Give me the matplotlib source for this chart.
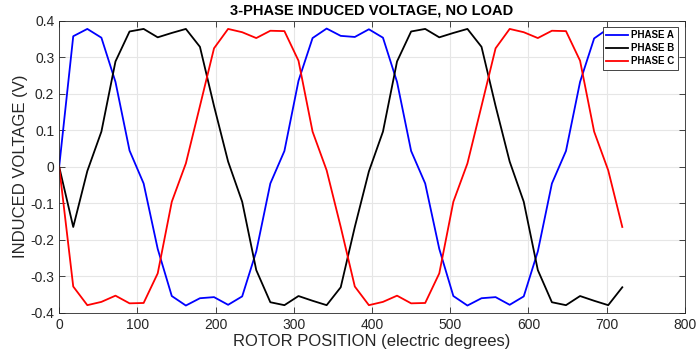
import numpy as np
import matplotlib
matplotlib.use("Agg")
import matplotlib.pyplot as plt

plt.rcParams["font.family"] = ["Liberation Sans", "DejaVu Sans"]
plt.rcParams["axes.unicode_minus"] = False

# rotor position, electric degrees (18 deg steps)
posicion = [0, 18, 36, 54, 72, 90, 108, 126, 144, 162, 180, 198, 216, 234, 252, 270, 288,
            306, 324, 342, 360, 378, 396, 414, 432, 450, 468, 486, 504, 522, 540, 558, 576,
            594, 612, 630, 648, 666, 684, 702, 720]

fase_a = [0, 0.357, 0.377, 0.353, 0.232, 0.044, -0.046, -0.225, -0.354, -0.380, -0.360,
          -0.357, -0.378, -0.355, -0.232, -0.046, 0.043, 0.235, 0.352, 0.378, 0.358,
          0.355, 0.376, 0.353, 0.232, 0.043, -0.046, -0.225, -0.354, -0.380, -0.360,
          -0.357, -0.378, -0.355, -0.232, -0.046, 0.043, 0.232, 0.351, 0.378, 0.360]

fase_b = [0, -0.165, -0.012, 0.096, 0.288, 0.370, 0.377, 0.354, 0.366, 0.377, 0.328,
          0.166, 0.014, -0.096, -0.283, -0.371, -0.379, -0.354, -0.367, -0.379, -0.330,
          -0.165, -0.013, 0.096, 0.288, 0.370, 0.377, 0.354, 0.366, 0.377, 0.328,
          0.166, 0.014, -0.096, -0.283, -0.371, -0.379, -0.354, -0.367, -0.379, -0.330]

fase_c = [0, -0.328, -0.379, -0.370, -0.353, -0.374, -0.373, -0.292, -0.096, 0.009, 0.166,
          0.324, 0.377, 0.368, 0.352, 0.372, 0.371, 0.290, 0.096, -0.010, -0.165,
          -0.328, -0.379, -0.370, -0.353, -0.374, -0.373, -0.292, -0.096, 0.009, 0.166,
          0.324, 0.377, 0.368, 0.352, 0.372, 0.371, 0.290, 0.096, -0.010, -0.165]

xticks = [0, 100, 200, 300, 400, 500, 600, 700, 800]
yticks = [-0.4, -0.3, -0.2, -0.1, 0, 0.1, 0.2, 0.3, 0.4]
ytick_labels = ["-0.4", "-0.3", "-0.2", "-0.1", "0", "0.1", "0.2", "0.3", "0.4"]

fig = plt.figure(figsize=(6.96, 3.6), dpi=100)
ax = fig.add_axes([0.085, 0.131, 0.899, 0.812])

ax.plot(posicion, fase_a, color="#0000ff", lw=1.3, label="PHASE A")
ax.plot(posicion, fase_b, color="#000000", lw=1.3, label="PHASE B")
ax.plot(posicion, fase_c, color="#ff0000", lw=1.3, label="PHASE C")

ax.set_xlim(0, 800)
ax.set_ylim(-0.4, 0.4)
ax.set_xticks(xticks)
ax.set_yticks(yticks)
ax.set_yticklabels(ytick_labels)
ax.tick_params(direction="in", top=True, right=True, labelsize=10,
               colors="#262626", length=4, width=0.6)
ax.grid(True, color="#e6e6e6", lw=0.8)
ax.set_axisbelow(True)
for sp in ax.spines.values():
    sp.set_color("#262626")
    sp.set_linewidth(0.6)

ax.set_xlabel("ROTOR POSITION (electric degrees)", fontsize=12, color="#262626", labelpad=2)
ax.set_ylabel("INDUCED VOLTAGE (V)", fontsize=12, color="#262626", labelpad=2)
ax.set_title("3-PHASE INDUCED VOLTAGE, NO LOAD", fontsize=10.5, weight="bold", pad=4)

leg = ax.legend(loc="upper right", bbox_to_anchor=(0.989, 0.978),
                prop={"weight": "bold", "size": 7}, frameon=True, fancybox=False,
                edgecolor="#262626", framealpha=1, handlelength=2.3, borderpad=0.35,
                labelspacing=0.3, handletextpad=0.3, borderaxespad=0)
leg.get_frame().set_linewidth(0.6)

fig.savefig("out.png", dpi=100)
